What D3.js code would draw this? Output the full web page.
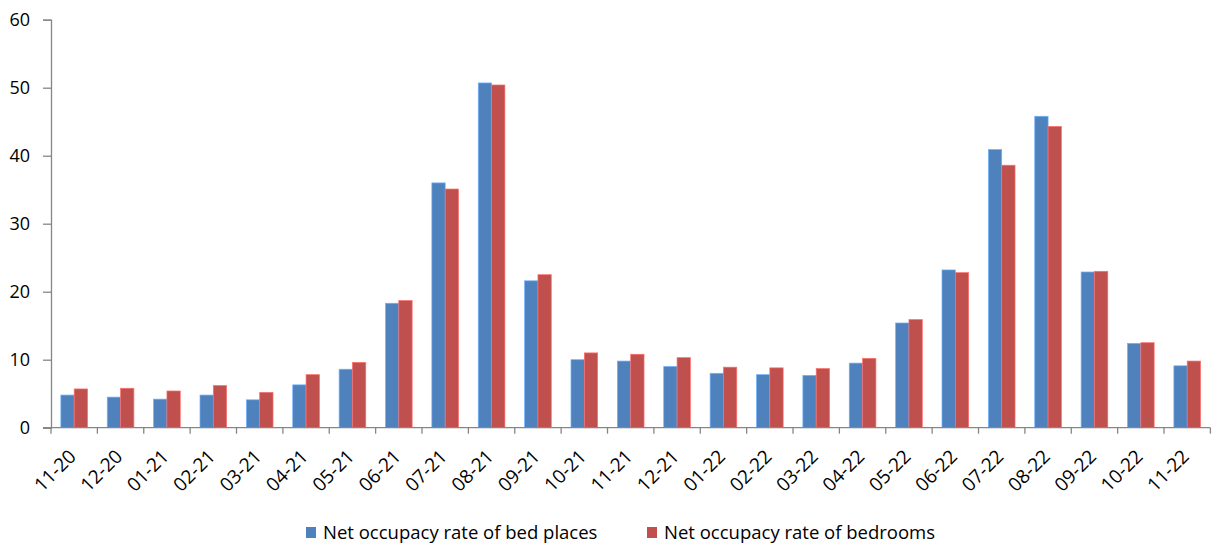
<!DOCTYPE html>
<html>
<head>
<meta charset="utf-8">
<script src="https://cdn.jsdelivr.net/npm/d3@7"></script>
<style>
  body { margin: 0; background: #fff; }
  svg { display: block; font-family: "Open Sans", sans-serif; }
</style>
</head>
<body>
<script>
// Data
var months = ["11-20", "12-20", "01-21", "02-21", "03-21", "04-21", "05-21", "06-21", "07-21", "08-21",
  "09-21", "10-21", "11-21", "12-21", "01-22", "02-22", "03-22", "04-22", "05-22", "06-22",
  "07-22", "08-22", "09-22", "10-22", "11-22"];
var bedPlaces = [4.8, 4.5, 4.2, 4.8, 4.1, 6.3, 8.6, 18.3, 36.0, 50.7,
  21.6, 10.0, 9.8, 9.0, 8.0, 7.8, 7.7, 9.5, 15.4, 23.2,
  40.9, 45.8, 22.9, 12.4, 9.1];
var bedrooms = [5.7, 5.8, 5.4, 6.2, 5.2, 7.8, 9.6, 18.7, 35.1, 50.4,
  22.5, 11.0, 10.8, 10.3, 8.9, 8.8, 8.7, 10.2, 15.9, 22.8,
  38.6, 44.3, 23.0, 12.5, 9.8];
var seriesNames = ["Net occupacy rate of bed places", "Net occupacy rate of bedrooms"];
var seriesColors = ["#4F81BD", "#C0504D"];
var yTicks = [0, 10, 20, 30, 40, 50, 60];

var width = 1212, height = 546;
var margin = {top: 19.7, right: 1.6, bottom: 118.3, left: 51};

var svg = d3.select("body").append("svg")
  .attr("width", width)
  .attr("height", height);

var g = svg.append("g")
  .attr("transform", "translate(" + margin.left + "," + margin.top + ")");

var innerW = width - margin.left - margin.right,
  innerH = height - margin.top - margin.bottom;

var x = d3.scaleBand().domain(months).range([0, innerW]).padding(0);
var xs = d3.scaleBand().domain([0, 1]).range([0, x.bandwidth()]).paddingInner(0).paddingOuter(0.74);
var y = d3.scaleLinear().domain([0, 60]).range([innerH, 0]);

var rows = months.map(function(m, i) { return {month: m, values: [bedPlaces[i], bedrooms[i]]}; });

// Bars
var groups = g.selectAll(".grp")
  .data(rows)
  .enter().append("g")
  .attr("class", "grp")
  .attr("transform", function(d) { return "translate(" + x(d.month) + ",0)"; });

groups.selectAll("rect")
  .data(function(d) { return d.values.map(function(v, k) { return {k: k, v: v}; }); })
  .enter().append("rect")
  .attr("x", function(d) { return xs(d.k); })
  .attr("y", function(d) { return y(d.v); })
  .attr("width", xs.bandwidth())
  .attr("height", function(d) { return innerH - y(d.v); })
  .attr("fill", function(d) { return seriesColors[d.k]; })
  .attr("stroke", function(d) { return d3.color(seriesColors[d.k]).brighter(0.9); })
  .attr("stroke-width", 0.7);

// Y axis
var yAxis = g.append("g")
  .call(d3.axisLeft(y).tickValues(yTicks).tickSize(8).tickPadding(13));
yAxis.selectAll("line, path").attr("stroke", "#868686").attr("stroke-width", 1.3);
yAxis.selectAll("text").attr("font-size", "18px").attr("fill", "#000").attr("font-family", "Open Sans");

// X axis: ticks at category boundaries
var xAxisG = g.append("g").attr("transform", "translate(0," + innerH + ")");
xAxisG.append("line")
  .attr("x1", -8).attr("x2", innerW)
  .attr("stroke", "#868686").attr("stroke-width", 1.3);
xAxisG.selectAll(".tk")
  .data(months.concat(["end"]))
  .enter().append("line")
  .attr("class", "tk")
  .attr("x1", function(d, i) { return i * x.step(); })
  .attr("x2", function(d, i) { return i * x.step(); })
  .attr("y1", 0).attr("y2", 6)
  .attr("stroke", "#868686").attr("stroke-width", 1.3);
xAxisG.selectAll(".lbl")
  .data(months)
  .enter().append("text")
  .attr("class", "lbl")
  .attr("transform", function(d) {
    return "translate(" + (x(d) + x.bandwidth() / 2 + 3) + ",30) rotate(-45)";
  })
  .attr("text-anchor", "end")
  .attr("font-size", "19px")
  .attr("fill", "#000")
  .text(function(d) { return d; });

// Legend
var legendX = [306, 647];
var legend = svg.selectAll(".leg")
  .data(seriesNames)
  .enter().append("g")
  .attr("class", "leg")
  .attr("transform", function(d, i) { return "translate(" + legendX[i] + ",527)"; });
legend.append("rect")
  .attr("width", 10).attr("height", 11)
  .attr("fill", function(d, i) { return seriesColors[i]; });
legend.append("text")
  .attr("x", 17).attr("y", 12)
  .attr("font-size", "18.5px")
  .attr("fill", "#000")
  .text(function(d) { return d; });
</script>
</body>
</html>
